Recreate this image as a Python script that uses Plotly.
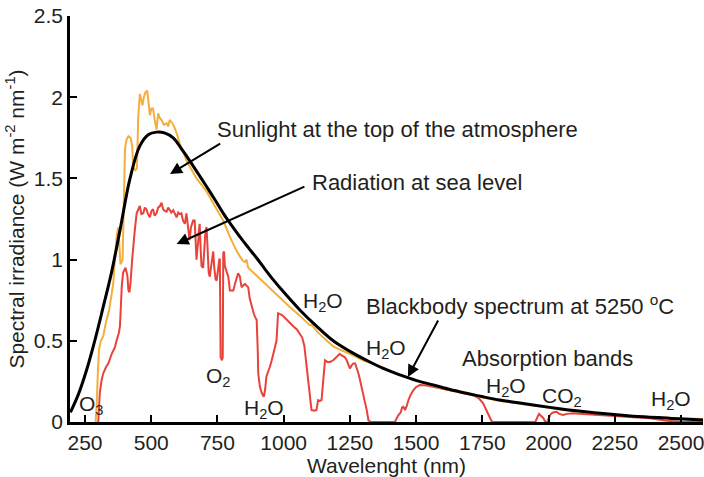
import plotly.graph_objects as go

# ---------------- data ----------------
bb_wl = [195, 225, 256, 290, 319, 350, 382, 420, 457, 490, 520, 550, 583, 615, 645, 677, 709, 740,
         772, 804, 835, 866, 898, 930, 961, 1000, 1061, 1124, 1187, 1250, 1313, 1376, 1439, 1502,
         1565, 1628, 1690, 1753, 1816, 1879, 1942, 2005, 2068, 2131, 2194, 2257, 2319, 2382, 2445,
         2508, 2583]
bb_val = [0.06, 0.17, 0.32, 0.52, 0.71, 0.92, 1.18, 1.50, 1.70, 1.77, 1.785, 1.78, 1.75, 1.68, 1.61,
          1.53, 1.45, 1.37, 1.285, 1.21, 1.14, 1.075, 1.01, 0.94, 0.875, 0.80, 0.69, 0.59, 0.50,
          0.435, 0.38, 0.33, 0.29, 0.255, 0.228, 0.20, 0.177, 0.155, 0.135, 0.12, 0.105, 0.09,
          0.076, 0.064, 0.054, 0.044, 0.036, 0.03, 0.024, 0.018, 0.012]

toa_wl = [290, 294, 298, 303, 310, 319, 330, 340, 350, 357, 365, 370, 376, 380, 384, 392, 397, 401,
          407, 414, 422, 428, 432, 440, 446, 451, 457, 462, 467, 472, 478, 485, 490, 495, 501, 507,
          513, 520, 526, 533, 539, 548, 558, 564, 570, 580, 589, 600, 608, 620, 633, 650, 671, 690,
          709, 740, 772, 797, 820, 835, 847, 855, 860, 866, 898, 935, 961, 998, 1025, 1061, 1090,
          1099, 1105, 1130, 1160, 1187, 1220, 1250, 1300, 1376, 1439, 1502, 1565, 1628, 1690, 1753,
          1816, 1879, 1942, 2005, 2068, 2131, 2194, 2257, 2319, 2382, 2445, 2508, 2583]
toa_val = [0.0, 0.10, 0.28, 0.45, 0.50, 0.53, 0.62, 0.68, 0.78, 0.86, 1.05, 1.15, 1.20, 1.05, 0.97,
           1.00, 1.30, 1.68, 1.74, 1.76, 1.75, 1.70, 1.57, 1.55, 1.56, 1.88, 2.02, 1.98, 1.95, 2.00,
           2.03, 2.04, 1.96, 1.89, 1.93, 1.93, 1.86, 1.80, 1.90, 1.87, 1.86, 1.83, 1.84, 1.82, 1.86,
           1.84, 1.81, 1.76, 1.71, 1.67, 1.61, 1.56, 1.50, 1.46, 1.42, 1.33, 1.24, 1.14, 1.06, 1.02,
           0.99, 0.985, 1.00, 0.95, 0.90, 0.845, 0.80, 0.745, 0.705, 0.655, 0.61, 0.595, 0.60, 0.55,
           0.505, 0.465, 0.44, 0.42, 0.38, 0.335, 0.29, 0.255, 0.222, 0.195, 0.172, 0.150, 0.130,
           0.115, 0.100, 0.086, 0.073, 0.062, 0.052, 0.043, 0.036, 0.030, 0.025, 0.021, 0.018]

sea_wl = [300, 306, 313, 319, 330, 338, 351, 363, 369, 378, 382, 386, 389, 394, 403, 410, 414, 418,
          422, 428, 432, 438, 445, 451, 457, 463, 470, 476, 482, 488, 495, 501, 507, 513, 520, 526,
          533, 539, 545, 551, 558, 564, 570, 576, 583, 590, 596, 602, 608, 614, 620, 627, 633, 639,
          645, 650, 654, 658, 664, 669, 671, 675, 677, 680, 683, 687, 690, 696, 700, 705, 709, 713,
          717, 721, 727, 734, 738, 743, 747, 752, 757, 759, 761, 762, 767, 770, 772, 775, 778, 785,
          791, 797, 810, 816, 822, 828, 834, 841, 847, 854, 860, 866, 872, 879, 885, 891, 898, 902,
          904, 910, 917, 925, 930, 935, 942, 948, 955, 961, 967, 973, 979, 986, 992, 1000, 1011,
          1024, 1036, 1050, 1061, 1070, 1078, 1086, 1093, 1099, 1105, 1115, 1124, 1130, 1137, 1143,
          1150, 1156, 1165, 1175, 1187, 1200, 1212, 1219, 1230, 1238, 1244, 1250, 1257, 1263, 1270,
          1275, 1282, 1288, 1300, 1307, 1314, 1320, 1330, 1420, 1432, 1442, 1447, 1452, 1458, 1465,
          1471, 1480, 1490, 1500, 1514, 1540, 1565, 1600, 1628, 1660, 1690, 1710, 1728, 1740, 1753,
          1763, 1772, 1778, 1785, 1790, 1950, 1958, 1964, 1970, 1980, 1988, 1995, 2005, 2011, 2020,
          2030, 2040, 2055, 2070, 2093, 2130, 2194, 2250, 2319, 2382, 2420, 2445, 2500, 2583]
sea_val = [0.0, 0.18, 0.26, 0.30, 0.34, 0.36, 0.42, 0.46, 0.50, 0.55, 0.59, 0.75, 0.84, 0.92, 0.95,
           0.90, 0.81, 0.80, 0.86, 1.00, 1.08, 1.18, 1.285, 1.31, 1.33, 1.28, 1.285, 1.32, 1.31,
           1.28, 1.26, 1.30, 1.31, 1.27, 1.285, 1.32, 1.33, 1.35, 1.31, 1.30, 1.295, 1.32, 1.30,
           1.29, 1.305, 1.28, 1.26, 1.29, 1.28, 1.285, 1.24, 1.22, 1.285, 1.20, 1.12, 1.20, 1.23,
           1.24, 1.24, 1.10, 1.00, 1.08, 1.10, 1.18, 1.22, 1.05, 0.96, 0.95, 1.05, 1.18, 1.20, 1.00,
           0.92, 0.895, 0.98, 1.05, 0.95, 0.88, 0.87, 0.95, 1.00, 1.00, 0.70, 0.40, 0.38, 0.40,
           1.04, 1.05, 0.96, 0.92, 0.895, 0.81, 0.81, 0.85, 0.88, 0.915, 0.90, 0.83, 0.84, 0.85,
           0.84, 0.83, 0.76, 0.71, 0.68, 0.65, 0.63, 0.45, 0.30, 0.22, 0.18, 0.155, 0.20, 0.28,
           0.31, 0.34, 0.38, 0.42, 0.46, 0.50, 0.67, 0.665, 0.66, 0.65, 0.63, 0.61, 0.59, 0.57,
           0.546, 0.52, 0.47, 0.36, 0.25, 0.155, 0.074, 0.07, 0.074, 0.135, 0.13, 0.135, 0.30, 0.38,
           0.37, 0.37, 0.38, 0.40, 0.42, 0.41, 0.40, 0.38, 0.35, 0.33, 0.35, 0.36, 0.36, 0.34, 0.30,
           0.26, 0.18, 0.135, 0.07, 0.01, 0.0, 0.0, 0.04, 0.06, 0.09, 0.094, 0.074, 0.10, 0.135,
           0.17, 0.197, 0.215, 0.228, 0.225, 0.217, 0.205, 0.197, 0.187, 0.177, 0.168, 0.155, 0.14,
           0.115, 0.08, 0.054, 0.03, 0.005, 0.0, 0.0, 0.03, 0.05, 0.04, 0.025, 0.0, 0.0, 0.04, 0.054,
           0.06, 0.063, 0.05, 0.043, 0.05, 0.054, 0.050, 0.043, 0.038, 0.033, 0.023, 0.014, 0.008,
           0.002, 0.0]

x_ticks = [250, 500, 750, 1000, 1250, 1500, 1750, 2000, 2250, 2500]
y_ticks = [0, 0.5, 1, 1.5, 2, 2.5]
y_tick_text = ["0", "0.5", "1", "1.5", "2", "2.5"]

FONT = "Liberation Sans, Arial, sans-serif"
TXT = "#231f20"

fig = go.Figure()
fig.add_trace(go.Scatter(x=sea_wl, y=sea_val, mode="lines",
                         line=dict(color="#e8433a", width=2), name="Radiation at sea level"))
fig.add_trace(go.Scatter(x=toa_wl, y=toa_val, mode="lines",
                         line=dict(color="#f5ad3c", width=2), name="Sunlight at the top of the atmosphere"))
fig.add_trace(go.Scatter(x=bb_wl, y=bb_val, mode="lines", line_shape="spline",
                         line=dict(color="#000000", width=3), name="Blackbody spectrum at 5250 °C"))

labels = [
    ("Sunlight at the top of the atmosphere", 741, 1.80, 22),
    ("Radiation at sea level", 1100, 1.472, 22),
    ("Blackbody spectrum at 5250 <sup>o</sup>C", 1302, 0.72, 22),
    ("H<sub>2</sub>O", 1064, 0.74, 21),
    ("H<sub>2</sub>O", 1303, 0.45, 21),
    ("Absorption bands", 1666, 0.388, 22),
    ("H<sub>2</sub>O", 1757, 0.216, 21),
    ("CO<sub>2</sub>", 1968, 0.154, 21),
    ("H<sub>2</sub>O", 2379, 0.136, 21),
    ("O<sub>2</sub>", 699, 0.277, 21),
    ("H<sub>2</sub>O", 843, 0.080, 21),
    ("O<sub>3</sub>", 220, 0.105, 21),
]
for text, x, y, size in labels:
    fig.add_annotation(x=x, y=y, xref="x", yref="y", text=text, showarrow=False,
                       xanchor="left", yanchor="middle",
                       font=dict(family=FONT, size=size, color=TXT))

arrows = [
    ((766, 1.72), (571, 1.527)),
    ((1084, 1.453), (596, 1.096)),
    ((1586, 0.634), (1469, 0.277)),
]
for (tx, ty), (hx, hy) in arrows:
    fig.add_annotation(x=hx, y=hy, ax=tx, ay=ty, xref="x", yref="y", axref="x", ayref="y",
                       text="", showarrow=True, arrowhead=2, arrowsize=1.2, arrowwidth=2,
                       arrowcolor="#000000")

fig.update_layout(
    width=704, height=477,
    margin=dict(l=70, r=1, t=16, b=55),
    paper_bgcolor="white", plot_bgcolor="white",
    showlegend=False,
    font=dict(family=FONT, size=21, color=TXT),
)
fig.update_xaxes(
    range=[193.4, 2583], tickvals=x_ticks, ticktext=[str(v) for v in x_ticks],
    ticks="inside", ticklen=7, tickwidth=2, tickcolor="black", ticklabeloverflow="allow",
    showline=True, linecolor="black", linewidth=2.5, showgrid=False, zeroline=False,
    tickfont=dict(family=FONT, size=21, color=TXT),
    title=dict(text="Wavelenght (nm)", font=dict(family=FONT, size=21, color=TXT), standoff=6),
)
fig.update_yaxes(
    range=[0, 2.5], tickvals=y_ticks, ticktext=y_tick_text,
    ticks="inside", ticklen=7, tickwidth=2, tickcolor="black", ticklabeloverflow="allow",
    showline=True, linecolor="black", linewidth=2.5, showgrid=False, zeroline=False,
    tickfont=dict(family=FONT, size=21, color=TXT),
    title=dict(text="Spectral irradiance (W m<sup>-2</sup> nm<sup>-1</sup>)",
               font=dict(family=FONT, size=21, color=TXT), standoff=4),
)

# remove the browser's default 8 px body margin so the figure fills the window exactly
fig.write_html("out.html", config={"displayModeBar": False},
               post_script="document.body.style.margin='0px';")
